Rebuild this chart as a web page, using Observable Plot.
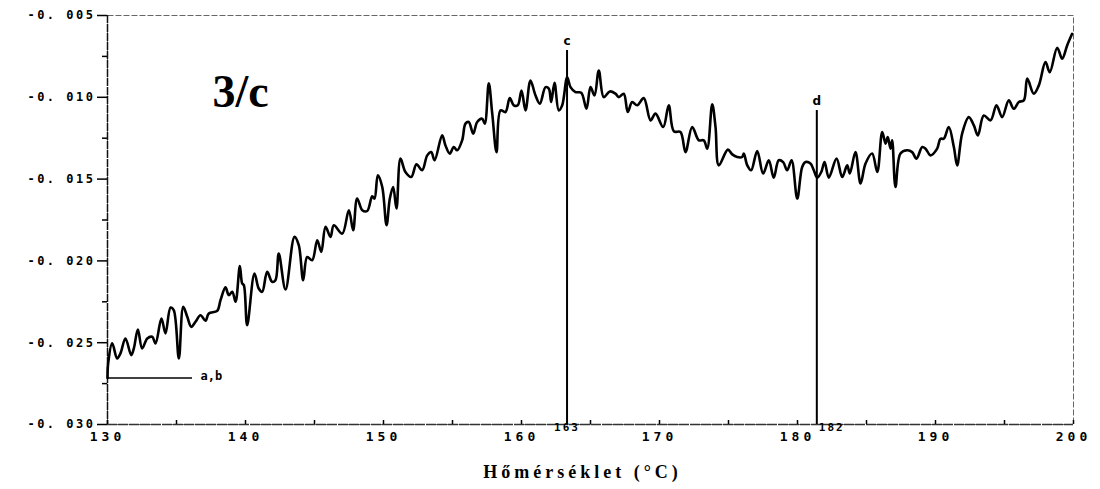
<!DOCTYPE html>
<html>
<head>
<meta charset="utf-8">
<script src="https://cdn.jsdelivr.net/npm/d3@7"></script>
<script src="https://cdn.jsdelivr.net/npm/@observablehq/plot@0.6"></script>
<style>
  html, body { margin: 0; padding: 0; background: #fff; overflow: hidden; }
  #chart { width: 1100px; height: 489px; }
</style>
</head>
<body>
<div id="chart"></div>
<script>
// ---- data ----
const temperature = [
  130.00,130.05,130.34,130.70,130.94,131.30,131.72,131.91,132.20,132.51,132.88,133.24,133.48,133.91,134.20,134.57,134.80,135.17,135.49,135.78,
  136.07,136.38,136.74,137.10,137.34,137.95,138.19,138.55,138.79,139.04,139.28,139.59,139.76,139.88,140.12,140.65,140.96,141.21,141.57,141.93,
  142.17,142.41,142.90,143.55,143.86,144.18,144.47,144.83,145.20,145.49,145.80,146.16,146.40,147.01,147.49,147.80,148.09,148.46,148.82,149.18,
  149.35,149.59,149.91,150.22,150.46,150.70,150.94,151.23,151.59,152.01,152.39,152.80,153.17,153.46,153.70,154.25,154.49,154.80,155.09,155.34,
  155.70,155.94,156.18,156.50,156.79,157.15,157.34,157.63,157.88,158.19,158.48,158.84,159.15,159.44,159.73,160.00,160.29,160.65,161.01,161.33,
  161.74,161.98,162.15,162.39,162.70,162.95,163.31,163.55,163.91,164.33,164.71,165.00,165.29,165.60,165.96,166.40,166.81,167.05,167.41,167.70,
  168.02,168.38,168.86,169.35,169.71,170.27,170.67,171.04,171.52,171.88,172.37,172.85,173.21,173.46,173.82,174.06,174.30,174.95,175.27,175.63,
  175.99,176.11,176.36,176.64,177.08,177.51,177.92,178.28,178.64,178.96,179.25,179.57,179.98,180.34,180.58,180.94,181.18,181.43,181.72,181.96,
  182.27,182.83,183.24,183.60,183.79,184.20,184.57,184.93,185.41,185.78,186.14,186.38,186.54,186.74,186.86,187.10,187.46,187.95,188.31,188.62,
  189.04,189.28,189.64,190.12,190.36,190.60,190.96,191.33,191.57,191.93,192.41,192.78,193.07,193.50,193.99,194.42,194.83,195.31,195.67,196.04,
  196.40,196.65,197.12,197.49,197.97,198.28,198.82,199.18,199.54,199.90
];
const signal = [
  -0.02716,-0.02625,-0.02504,-0.02596,-0.02565,-0.02474,-0.02576,-0.02535,-0.02419,-0.02535,-0.02474,-0.02464,-0.02504,-0.02352,-0.02443,-0.02285,-0.02301,-0.02596,-0.02281,-0.02342,
  -0.02403,-0.02372,-0.02332,-0.02366,-0.02321,-0.02305,-0.02240,-0.02162,-0.02209,-0.02189,-0.02250,-0.02032,-0.02138,-0.02148,-0.02393,-0.02077,-0.02169,-0.02189,-0.02067,-0.02128,
  -0.02118,-0.01955,-0.02175,-0.01853,-0.01904,-0.02118,-0.01976,-0.01996,-0.01874,-0.01945,-0.01792,-0.01853,-0.01782,-0.01833,-0.01690,-0.01813,-0.01619,-0.01690,-0.01695,-0.01605,
  -0.01619,-0.01477,-0.01548,-0.01782,-0.01619,-0.01548,-0.01680,-0.01375,-0.01457,-0.01487,-0.01410,-0.01446,-0.01355,-0.01335,-0.01385,-0.01233,-0.01294,-0.01344,-0.01304,-0.01324,
  -0.01263,-0.01161,-0.01151,-0.01222,-0.01151,-0.01131,-0.01161,-0.00915,-0.01100,-0.01335,-0.01080,-0.01090,-0.01005,-0.01049,-0.01049,-0.00958,-0.01080,-0.00897,-0.00988,-0.01039,
  -0.00938,-0.00947,-0.01029,-0.00911,-0.01080,-0.01049,-0.00877,-0.00938,-0.00968,-0.00972,-0.01070,-0.00938,-0.00988,-0.00836,-0.00999,-0.00964,-0.00978,-0.00999,-0.00978,-0.01090,
  -0.01029,-0.01049,-0.01005,-0.01141,-0.01100,-0.01182,-0.01049,-0.01208,-0.01212,-0.01335,-0.01182,-0.01263,-0.01263,-0.01314,-0.01043,-0.01182,-0.01416,-0.01320,-0.01349,-0.01365,
  -0.01365,-0.01344,-0.01416,-0.01446,-0.01328,-0.01466,-0.01385,-0.01491,-0.01385,-0.01396,-0.01446,-0.01385,-0.01619,-0.01426,-0.01396,-0.01405,-0.01446,-0.01491,-0.01457,-0.01396,
  -0.01491,-0.01375,-0.01487,-0.01416,-0.01466,-0.01335,-0.01527,-0.01405,-0.01344,-0.01457,-0.01212,-0.01283,-0.01243,-0.01314,-0.01263,-0.01548,-0.01344,-0.01324,-0.01335,-0.01375,
  -0.01304,-0.01314,-0.01355,-0.01314,-0.01253,-0.01253,-0.01182,-0.01304,-0.01416,-0.01222,-0.01121,-0.01172,-0.01233,-0.01111,-0.01141,-0.01049,-0.01121,-0.01019,-0.01070,-0.01029,
  -0.01019,-0.00886,-0.00978,-0.00927,-0.00785,-0.00846,-0.00697,-0.00764,-0.00683,-0.00612
];

const xDomain = [130, 200];
const yDomain = [-0.030, -0.005];
const xTickLabels = [130, 140, 150, 160, 170, 180, 190, 200];
const xMinorTicks = [135, 145, 155, 165, 175, 185, 195];
const yTickLabels = [-0.030, -0.025, -0.020, -0.015, -0.010, -0.005];
const yMinorTicks = [-0.0275, -0.0225, -0.0175, -0.0125, -0.0075];

// vertical markers c and d
const markerLabels = ["c", "d"];
const markerTemps = [163.3, 181.4];
const markerTempLabels = ["163", "182"];
const markerTops = [-0.00714, -0.0108];
// horizontal marker a,b
const abLabel = "a,b";
const abValue = -0.02716;
const abEnd = 136.16;

const panelTitle = "3/c";
const xTitle = "Hőmérséklet (°C)";

// ---- build tables ----
const series = temperature.map((t, i) => ({t, v: signal[i]}));
const markers = markerLabels.map((l, i) => ({label: l, x: markerTemps[i], top: markerTops[i], tl: markerTempLabels[i]}));
const ab = [{label: abLabel, y: abValue, x1: xDomain[0], x2: abEnd}];

const mono = "'DejaVu Sans Mono', monospace";

const chart = Plot.plot({
  width: 1100,
  height: 489,
  marginTop: 15,
  marginRight: 27,
  marginBottom: 65,
  marginLeft: 107,
  style: {background: "#fff", color: "#000", overflow: "visible"},
  x: {domain: xDomain, label: null},
  y: {domain: yDomain, label: null},
  marks: [
    Plot.frame({stroke: "#666", strokeDasharray: "6,2", strokeWidth: 1}),
    Plot.ruleX([xDomain[0]], {stroke: "#111", strokeDasharray: "8,1", strokeWidth: 1.5}),
    Plot.ruleY([yDomain[0]], {stroke: "#333", strokeDasharray: "10,1", strokeWidth: 1.3}),
    // x tick marks (inside)
    Plot.gridX(xTickLabels.concat(xMinorTicks), {stroke: "#000", strokeOpacity: 1, strokeWidth: 1.5, insetTop: 405}),
    // y tick marks and labels
    Plot.axisY(yTickLabels, {tickSize: 10, tickPadding: 2, fontFamily: mono, fontWeight: "bold", fontSize: 12,
      tickFormat: d => d.toFixed(3).replace(".", ". "), strokeWidth: 1.5}),
    Plot.axisY(yMinorTicks, {tickSize: 5, tickFormat: () => "", strokeWidth: 1.5}),
    Plot.axisX(xTickLabels, {tickSize: 0, tickPadding: 7, fontFamily: mono, fontWeight: "bold", fontSize: 13,
      tickFormat: d => String(d)}),
    // data line
    Plot.line(series, {x: "t", y: "v", stroke: "#000", strokeWidth: 2.6, curve: "catmull-rom", strokeLinejoin: "round"}),
    // vertical markers
    Plot.ruleX(markers, {x: "x", y1: "top", y2: () => yDomain[0], stroke: "#000", strokeWidth: 2}),
    Plot.text(markers, {x: "x", y: "top", text: "label", dy: -9, fontFamily: "'DejaVu Sans', sans-serif", fontWeight: "bold", fontSize: 12}),
    Plot.text(markers.filter(d => d.label === "c"), {x: "x", frameAnchor: "bottom", text: "tl", dy: 6, fontFamily: mono, fontWeight: "bold", fontSize: 11, textAnchor: "middle"}),
    Plot.text(markers.filter(d => d.label === "d"), {x: "x", frameAnchor: "bottom", text: "tl", dy: 6, dx: 2, fontFamily: mono, fontWeight: "bold", fontSize: 11, textAnchor: "start"}),
    // horizontal marker a,b
    Plot.ruleY(ab, {y: "y", x1: "x1", x2: "x2", stroke: "#000", strokeWidth: 1.5}),
    Plot.text(ab, {x: "x2", y: "y", text: "label", dx: 8, dy: -2, textAnchor: "start", fontFamily: mono, fontWeight: "bold", fontSize: 12}),
    // panel title
    Plot.text([panelTitle], {frameAnchor: "top-left", dx: 105, dy: 59, text: d => d, textAnchor: "start",
      fontFamily: "'Liberation Serif', 'Times New Roman', serif", fontWeight: "bold", fontSize: 46}),
    // x axis title
    Plot.text([xTitle], {frameAnchor: "bottom", dy: 53, dx: -8, text: d => d,
      fontFamily: "'Liberation Serif', 'Times New Roman', serif", fontWeight: "bold", fontSize: 18})
  ]
});

// letter spacing for the tick labels and axis title, like the original plotter font
d3.select(chart).selectAll('g[aria-label="y-axis tick label"] text').attr("letter-spacing", 2.5);
d3.select(chart).selectAll('g[aria-label="x-axis tick label"] text').attr("letter-spacing", 4);
d3.select(chart).selectAll('g[aria-label="text"] text').filter(function() { return this.textContent === xTitle; })
  .attr("letter-spacing", 4);
d3.select(chart).selectAll('g[aria-label="text"] text').filter(function() { return this.textContent === "163" || this.textContent === "182"; })
  .attr("letter-spacing", 2);

document.getElementById("chart").appendChild(chart);
</script>
</body>
</html>
